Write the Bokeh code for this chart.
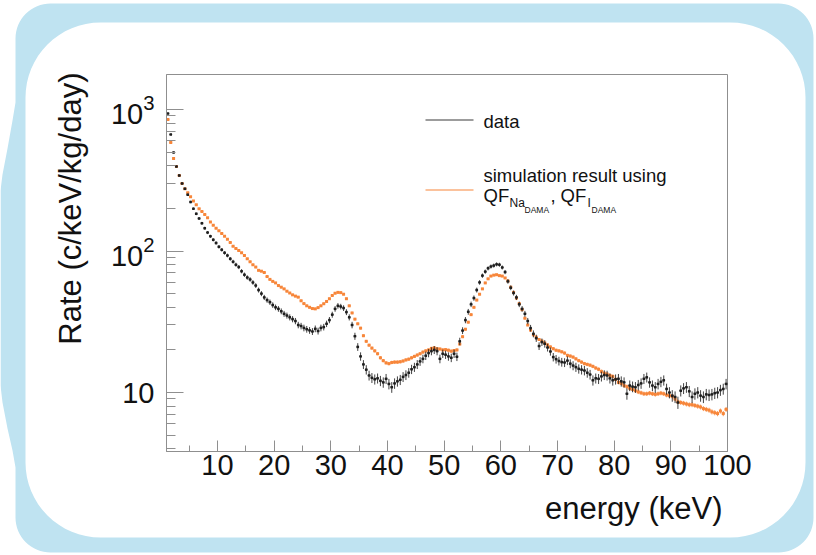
import math
from bokeh.plotting import figure
from bokeh.models import (ColumnDataSource, Range1d, FixedTicker, LogTickFormatter,
                          Label, PolyAnnotation, BoxAnnotation)
from bokeh.embed import file_html
from bokeh.resources import INLINE

# ---- energy spectrum, 0.5 keV bins from 1 to 100 keV ----
bin_low_kev = 1.0
bin_width_kev = 0.5

# measured rate (c/keV/kg/day)
data_rate = [
    935, 666, 497, 395, 342, 300, 275, 250, 222, 199,
    183, 170, 157, 145, 135, 127, 120, 114, 107, 102,
    97, 93, 88, 84, 80, 77, 72, 68, 65, 63,
    60, 57, 53, 50, 47, 45, 43.5, 41.5, 40, 39,
    37.5, 36, 35, 34, 33, 32, 30, 29.5, 28.6, 28,
    27.5, 27, 28.2, 27.2, 28.6, 29, 30.6, 32.5, 35.5, 39,
    41, 40.5, 39.5, 37, 34, 30, 25, 21, 18, 15.8,
    14.5, 13.2, 12.7, 12.4, 12.6, 12.1, 11.8, 12.5, 11.5, 10.9,
    11.6, 12.0, 12.3, 12.9, 13.3, 13.8, 14.6, 15.1, 15.8, 16.6,
    17.3, 18.2, 19.0, 19.6, 20.0, 19.6, 17.3, 18.8, 18.5, 18.0,
    17.6, 18.8, 17.9, 23.0, 27.4, 32.5, 37.2, 42, 46.5, 53,
    60, 67, 71.5, 75.5, 77.7, 78.9, 80.5, 80, 76.5, 71,
    61, 55, 50.5, 47, 42, 39, 36, 32, 28.5, 26,
    24.2, 21.3, 22.7, 22.1, 20.8, 19.5, 17.8, 17.2, 16.7, 16.4,
    16.3, 16.8, 16.0, 15.5, 15.1, 14.7, 14.5, 14.3, 13.8, 13.4,
    12.2, 12.6, 12.5, 13.0, 13.3, 13.2, 12.6, 12.2, 12.4, 12.5,
    12.0, 11.8, 9.8, 11.2, 11.0, 10.9, 11.3, 11.6, 12.5, 12.8,
    11.8, 11.2, 10.9, 11.5, 11.9, 12.2, 10.6, 10.0, 9.5, 9.3,
    8.5, 10.3, 10.7, 10.9, 10.2, 9.3, 9.8, 10.0, 9.5, 9.3,
    9.7, 9.6, 9.7, 9.9, 10.0, 10.4, 10.6, 11.5,
]

# simulated rate with the DAMA quenching factors (c/keV/kg/day)
sim_rate = [
    850, 585, 450, 395, 342, 300, 275, 258, 242, 226,
    212, 199, 190, 181, 172, 160, 152, 145, 139, 133,
    127, 121, 115, 108, 104, 101, 97, 93, 88, 84,
    80, 77, 73, 72, 70.5, 66, 63, 61, 59.5, 57,
    55.5, 54, 52, 50.5, 49, 48, 47.2, 44.5, 42.5, 41,
    40, 39.2, 39, 39.8, 41, 42.4, 44, 46, 48.5, 50.3,
    51, 50.8, 49.5, 46, 41, 36.5, 33, 30.6, 28.5, 25.2,
    23, 21.6, 20.6, 19.7, 18.8, 17.6, 16.8, 16.2, 16.0, 16.3,
    16.4, 16.4, 16.5, 16.7, 17.0, 17.2, 17.6, 18.0, 18.4, 18.8,
    19.3, 19.7, 20.0, 20.5, 20.7, 20.4, 20.3, 20.0, 20.1, 19.9,
    19.6, 19.8, 20.0, 22.0, 24.8, 28.0, 31.4, 35.5, 40, 45,
    49.5, 54, 59.5, 63.6, 66.5, 67.5, 68, 67, 66.5, 64.5,
    61.5, 55.5, 51, 46.5, 42.5, 38.5, 33.5, 30, 27.6, 25.6,
    24.6, 23.7, 23.1, 22.4, 21.7, 21.0, 20.4, 19.9, 19.7, 19.4,
    19.0, 18.3, 18.1, 17.8, 17.3, 16.8, 16.4, 16.0, 15.8, 15.6,
    15.3, 14.9, 14.6, 14.1, 13.7, 13.5, 13.2, 13.0, 12.4, 11.8,
    11.6, 11.2, 11.0, 10.7, 10.5, 10.3, 10.1, 9.95, 9.8, 9.8,
    9.9, 9.8, 9.7, 9.8, 9.9, 9.8, 9.6, 9.5, 9.4, 9.0,
    8.6, 8.5, 8.4, 8.3, 8.2, 8.2, 8.1, 8.0, 7.9, 7.7,
    7.6, 7.5, 7.3, 7.2, 7.1, 7.4, 7.1, 7.6,
]

# exposure per bin (kg*day*keV) behind the statistical error bars
data_exposure = 12.0
sim_exposure = 80.0

# axis extents
x_min, x_max = 1.0, 100.0
y_min, y_max = 3.83, 1767.0

x_ticks = [10, 20, 30, 40, 50, 60, 70, 80, 90, 100]
x_minor_ticks = [5, 15, 25, 35, 45, 55, 65, 75, 85, 95]
y_ticks = [10, 100, 1000]
y_minor_ticks = [4, 5, 6, 7, 8, 9,
                 20, 30, 40, 50, 60, 70, 80, 90,
                 200, 300, 400, 500, 600, 700, 800, 900]

x_title = "energy (keV)"
y_title = "Rate (c/keV/kg/day)"
legend_data = "data"
legend_sim = "simulation result using"

# ---- styling ----
FONT = "Liberation Sans"
FRAME_GREY = "#8f8f8f"
TEXT_COLOR = "#111111"
DATA_COLOR = "#1e1e1e"
SIM_COLOR = "#f7863a"
PANEL_BLUE = "#bfe3f1"

W, H = 816, 555
BOX_L, BOX_R, BOX_T, BOX_B = 166, 727, 74, 451   # plot box on the page, px
BASELINE_SHIFT = 0.4   # label anchor correction, in em


def sx(X):
    return X


def sy(Y):
    return H - Y


# the frame spans the whole page; the data ranges are widened so that the
# axis extents land on the plot box
kx = (BOX_R - BOX_L) / (x_max - x_min)
px_per_decade = (BOX_B - BOX_T) / math.log10(y_max / y_min)
x_range = Range1d(x_min - BOX_L / kx, x_max + (W - BOX_R) / kx)
y_range = Range1d(y_min / 10 ** ((H - BOX_B) / px_per_decade),
                  y_max * 10 ** (BOX_T / px_per_decade))


def spectrum_source(rates, exposure):
    xs = [bin_low_kev + bin_width_kev * (i + 0.5) for i in range(len(rates))]
    errs = [math.sqrt(r / exposure) for r in rates]
    return ColumnDataSource(dict(
        x=xs, y=rates,
        xlo=[x - bin_width_kev / 2 for x in xs], xhi=[x + bin_width_kev / 2 for x in xs],
        ylo=[r - e for r, e in zip(rates, errs)], yhi=[r + e for r, e in zip(rates, errs)],
    ))


p = figure(width=W, height=H, x_range=x_range, y_range=y_range,
           y_axis_type="log", output_backend="svg", toolbar_location=None,
           min_border=0)
p.border_fill_color = "white"
p.background_fill_color = "white"
p.outline_line_color = None
p.grid.visible = False


# light-blue panel ring around the white card
def rounded_outline(x0, y0, x1, y1, r, start_x, left_side=(), n=16):
    pts = [(start_x, y0)]

    def arc(cx, cy, a0, a1):
        for k in range(n + 1):
            t = math.radians(a0 + (a1 - a0) * k / n)
            pts.append((cx + r * math.cos(t), cy + r * math.sin(t)))

    arc(x1 - r, y0 + r, -90, 0)
    arc(x1 - r, y1 - r, 0, 90)
    arc(x0 + r, y1 - r, 90, 180)
    pts.extend(left_side)
    arc(x0 + r, y0 + r, 180, 270)
    pts.append((start_x, y0))
    return pts


bulge = [(15, 467), (12, 450), (7, 428), (2, 402), (0, 385),
         (0, 190), (2, 174), (7, 148), (12, 120), (15, 102)]
outer = rounded_outline(15, 3, 813, 552, 35, 400, bulge)
inner = rounded_outline(25, 22, 805, 537, 75, 400)
ring = outer + inner[::-1]
p.add_layout(PolyAnnotation(xs=[sx(X) for X, _ in ring], ys=[sy(Y) for _, Y in ring],
                            xs_units="screen", ys_units="screen", level="underlay",
                            fill_color=PANEL_BLUE, fill_alpha=1, line_color=None))

# plot box
p.add_layout(BoxAnnotation(left=x_min, right=x_max, bottom=y_min, top=y_max,
                           fill_color=None, fill_alpha=0, level="underlay",
                           line_color=FRAME_GREY, line_width=1, line_alpha=1))

# axes pinned to the box edges
p.xaxis.fixed_location = y_min
p.xaxis.bounds = (x_min, x_max)
p.xaxis.ticker = FixedTicker(ticks=x_ticks, minor_ticks=x_minor_ticks)
p.xaxis.major_tick_in = 11
p.xaxis.major_tick_out = 0
p.xaxis.minor_tick_in = 6
p.xaxis.minor_tick_out = 0
p.xaxis.major_label_standoff = 3

p.yaxis.fixed_location = x_min
p.yaxis.bounds = (y_min, y_max)
p.yaxis.ticker = FixedTicker(ticks=y_ticks, minor_ticks=y_minor_ticks)
p.yaxis.formatter = LogTickFormatter(min_exponent=2)
p.yaxis.major_tick_in = 17
p.yaxis.major_tick_out = 0
p.yaxis.minor_tick_in = 9
p.yaxis.minor_tick_out = 0
p.yaxis.major_label_standoff = 12

for ax in (p.xaxis, p.yaxis):
    ax.axis_line_color = FRAME_GREY
    ax.major_tick_line_color = FRAME_GREY
    ax.minor_tick_line_color = FRAME_GREY
    ax.major_label_text_font = FONT
    ax.major_label_text_font_size = "29px"
    ax.major_label_text_color = TEXT_COLOR

# spectra with error bars
for rates, exposure, color, size in ((sim_rate, sim_exposure, SIM_COLOR, 3),
                                     (data_rate, data_exposure, DATA_COLOR, 2.5)):
    src = spectrum_source(rates, exposure)
    p.segment(x0="x", y0="ylo", x1="x", y1="yhi", source=src,
              line_color=color, line_width=1, line_alpha=0.85)
    p.segment(x0="xlo", y0="y", x1="xhi", y1="y", source=src,
              line_color=color, line_width=1, line_alpha=0.85)
    p.scatter(x="x", y="y", source=src, marker="square", size=size,
              fill_color=color, line_color=None)


def text_at(text, X, Y, size_px, **kw):
    """Place text with its baseline at page position (X, Y)."""
    angle = kw.pop("angle", 0.0)
    shift = BASELINE_SHIFT * size_px
    if angle:
        X -= shift
    else:
        Y -= shift
    p.add_layout(Label(x=sx(X), y=sy(Y), x_units="screen", y_units="screen",
                       text=text, text_font=FONT, text_font_size=f"{size_px}px",
                       text_color=TEXT_COLOR, text_baseline="alphabetic",
                       angle=angle, **kw))


# axis titles, right-aligned to the end of each axis
text_at(x_title, 722, 520, 31, text_align="right")
text_at(y_title, 82, 72, 31, text_align="right", angle=math.pi / 2)

# legend: sample lines and entries
for Y, color in ((119, "#3a3a3a"), (189, SIM_COLOR)):
    p.add_layout(BoxAnnotation(left=sx(425), right=sx(473), top=sy(Y), bottom=sy(Y + 1),
                               left_units="screen", right_units="screen",
                               top_units="screen", bottom_units="screen",
                               fill_color=color, fill_alpha=1, line_color=None))

legend_texts = [
    (legend_data, 483, 128, 18.5),
    (legend_sim, 483, 182, 18.5),
    ("QF", 483, 202, 18.5),
    ("Na", 509, 207, 12),
    ("DAMA", 524, 213, 8.5),
    (",", 550, 202, 18.5),
    ("QF", 560, 202, 18.5),
    ("I", 587, 207, 12),
    ("DAMA", 591, 213, 8.5),
]
for text, X, Y, fs in legend_texts:
    text_at(text, X, Y, fs)

open("out.html", "w").write(file_html(p, INLINE))
